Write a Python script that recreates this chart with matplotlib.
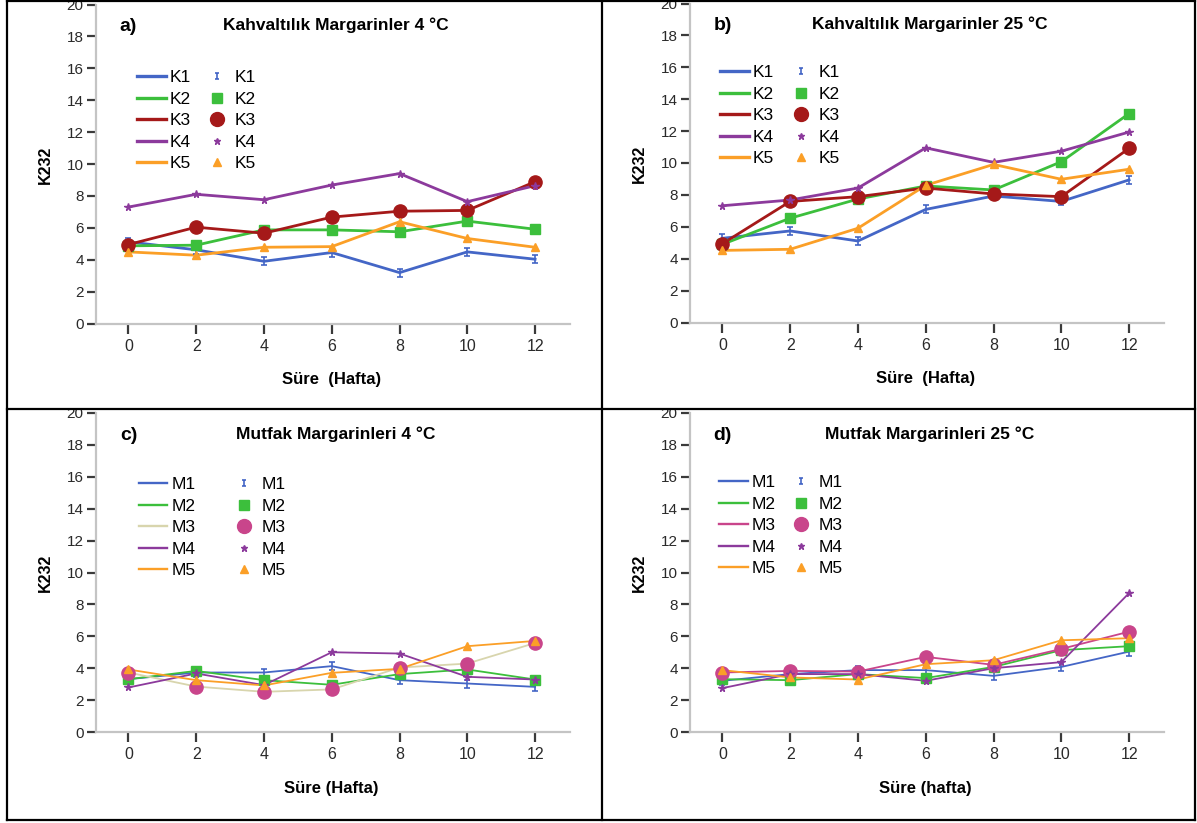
import matplotlib
matplotlib.use("Agg")
import matplotlib.pyplot as plt
from matplotlib.lines import Line2D
from matplotlib.path import Path

# week axis shared by all four panels
weeks = [0, 2, 4, 6, 8, 10, 12]
week_ticks = [0, 2, 4, 6, 8, 10, 12]
k232_ticks = [0, 2, 4, 6, 8, 10, 12, 14, 16, 18, 20]

k_names = ["K1", "K2", "K3", "K4", "K5"]
m_names = ["M1", "M2", "M3", "M4", "M5"]

# a) Kahvaltilik margarinler, 4 C
a_k1 = [5.12, 4.62, 3.90, 4.45, 3.19, 4.49, 4.03]
a_k2 = [4.87, 4.91, 5.87, 5.87, 5.75, 6.42, 5.91]
a_k3 = [4.95, 6.04, 5.66, 6.67, 7.04, 7.09, 8.89]
a_k4 = [7.30, 8.10, 7.76, 8.68, 9.40, 7.64, 8.64]
a_k5 = [4.49, 4.28, 4.78, 4.82, 6.38, 5.33, 4.78]

# b) Kahvaltilik margarinler, 25 C
b_k1 = [5.28, 5.74, 5.11, 7.09, 7.93, 7.59, 8.94]
b_k2 = [4.90, 6.54, 7.74, 8.56, 8.31, 10.08, 13.10]
b_k3 = [4.94, 7.59, 7.89, 8.43, 8.06, 7.89, 10.92]
b_k4 = [7.32, 7.68, 8.43, 10.95, 10.04, 10.74, 11.94]
b_k5 = [4.52, 4.59, 5.91, 8.60, 9.91, 8.98, 9.61]

# c) Mutfak margarinleri, 4 C
c_m1 = [3.31, 3.73, 3.73, 4.13, 3.25, 3.04, 2.83]
c_m2 = [3.31, 3.83, 3.25, 2.96, 3.63, 3.92, 3.29]
c_m3 = [3.73, 2.85, 2.52, 2.67, 4.04, 4.29, 5.58]
c_m4 = [2.79, 3.67, 2.94, 5.00, 4.92, 3.46, 3.29]
c_m5 = [3.92, 3.25, 2.92, 3.71, 3.96, 5.38, 5.71]

# d) Mutfak margarinleri, 25 C
d_m1 = [3.21, 3.63, 3.88, 3.88, 3.52, 4.08, 5.04]
d_m2 = [3.31, 3.25, 3.63, 3.38, 4.08, 5.13, 5.38]
d_m3 = [3.73, 3.83, 3.79, 4.71, 4.21, 5.21, 6.29]
d_m4 = [2.75, 3.63, 3.63, 3.21, 4.00, 4.38, 8.71]
d_m5 = [3.88, 3.42, 3.29, 4.25, 4.50, 5.75, 5.88]

plt.rcParams['font.family'] = ['Liberation Sans', 'DejaVu Sans']

W, H = 1197, 823
fig = plt.figure(figsize=(W / 100, H / 100), dpi=100)


def fx(px):
    return px / W


def fy(py):
    return 1 - py / H


# little "I" marker that SPSS uses for the first series
ibar = Path([(-0.35, 0.5), (0.35, 0.5), (0, 0.5), (0, -0.5), (-0.35, -0.5), (0.35, -0.5)],
            [Path.MOVETO, Path.LINETO, Path.MOVETO, Path.LINETO, Path.MOVETO, Path.LINETO])

blue, green, red, purple, orange = '#4466c6', '#3cbf3c', '#a51919', '#8c3a9c', '#fb9f27'
pink, khaki = '#c9458b', '#d8d5ad'

marks = [ibar, 's', 'o', '*', '^']
msize = [6, 6.5, 9.5, 5.5, 6]
leg_msize = [5, 6.5, 10, 5, 5.5]


def panel(left, top, names, series, line_cols, mark_cols, lw, letter, title, xlabel,
          leg_x, leg_y, leg2_x):
    bottom = top + 319
    ax = fig.add_axes([fx(left), fy(bottom), (474.5) / W, 319 / H])
    for vals, c in zip(series, line_cols):
        ax.plot(weeks, vals, color=c, lw=lw, solid_joinstyle='round', zorder=2)
    for vals, c, m, s in zip(series, mark_cols, marks, msize):
        ax.plot(weeks, vals, ls='none', marker=m, ms=s, color=c, mec=c,
                mfc=c if m is not ibar else 'none', mew=1.2 if m is ibar else 1, zorder=3)
    ax.set_xlim(-0.97, 13.03)
    ax.set_ylim(0, 20)
    ax.set_xticks(week_ticks)
    ax.set_yticks(k232_ticks)
    for s in ['top', 'right']:
        ax.spines[s].set_visible(False)
    for s in ['left', 'bottom']:
        ax.spines[s].set_color('#c4c4c4')
        ax.spines[s].set_linewidth(1.6)
    ax.tick_params(axis='y', length=6.5, width=1.6, color='#3a3a3a', pad=2,
                   labelsize=11, labelcolor='#2a2a2a')
    ax.tick_params(axis='x', length=7, width=1.6, color='#3a3a3a', pad=4,
                   labelsize=11.5, labelcolor='#2a2a2a')
    for lab in ax.get_yticklabels():
        lab.set_clip_on(False)

    fig.text(fx(left + 33), fy(top + 22), letter, fontsize=14, fontweight='bold',
             ha='center', va='center')
    fig.text(fx(left + 240), fy(top + 21), title, fontsize=12.5, fontweight='bold',
             ha='center', va='center')
    fig.text(fx(left + 236), fy(bottom + 56), xlabel, fontsize=12, fontweight='bold',
             ha='center', va='center')
    fig.text(fx(left - 50), fy(top + 160), 'K232', fontsize=11.5, fontweight='bold',
             rotation=90, ha='center', va='center')

    line_h = [Line2D([], [], color=c, lw=lw + 0.4) for c in line_cols]
    mark_h = [Line2D([], [], ls='none', marker=m, ms=s, color=c, mec=c,
                     mfc=c if m is not ibar else 'none', mew=1.2 if m is ibar else 1)
              for c, m, s in zip(mark_cols, marks, leg_msize)]
    kw = dict(frameon=False, fontsize=12.5, borderpad=0, borderaxespad=0,
              labelspacing=0.37, loc='upper left')
    leg1 = ax.legend(line_h, names, handlelength=1.65, handletextpad=0.25,
                     bbox_to_anchor=(fx(leg_x), fy(leg_y)),
                     bbox_transform=fig.transFigure, **kw)
    ax.add_artist(leg1)
    ax.legend(mark_h, names, handlelength=1.0, handletextpad=0.55,
              bbox_to_anchor=(fx(leg2_x), fy(leg_y)),
              bbox_transform=fig.transFigure, **kw)
    return ax


panel(95.5, 4.5, k_names, [a_k1, a_k2, a_k3, a_k4, a_k5],
      [blue, green, red, purple, orange], [blue, green, red, purple, orange], 2.0,
      'a)', 'Kahvaltılık Margarinler 4 °C', 'Süre  (Hafta)', 137, 70, 208)
panel(689.5, 3.5, k_names, [b_k1, b_k2, b_k3, b_k4, b_k5],
      [blue, green, red, purple, orange], [blue, green, red, purple, orange], 2.0,
      'b)', 'Kahvaltılık Margarinler 25 °C', 'Süre  (Hafta)', 720, 65, 792)
panel(95.5, 413, m_names, [c_m1, c_m2, c_m3, c_m4, c_m5],
      [blue, green, khaki, purple, orange], [blue, green, pink, purple, orange], 1.3,
      'c)', 'Mutfak Margarinleri 4 °C', 'Süre (Hafta)', 138.5, 477, 235)
panel(689.5, 413, m_names, [d_m1, d_m2, d_m3, d_m4, d_m5],
      [blue, green, pink, purple, orange], [blue, green, pink, purple, orange], 1.3,
      'd)', 'Mutfak Margarinleri 25 °C', 'Süre (hafta)', 719, 475, 792)

# table cell borders round the four pictures
for x in [6.5, 601.5, 1194.5]:
    fig.add_artist(Line2D([fx(x), fx(x)], [fy(0), fy(820)], color='black', lw=1.6))
for y in [1, 409, 819.5]:
    fig.add_artist(Line2D([fx(6.5), fx(1194.5)], [fy(y), fy(y)], color='black', lw=1.6))

fig.savefig('out.png', dpi=100)
